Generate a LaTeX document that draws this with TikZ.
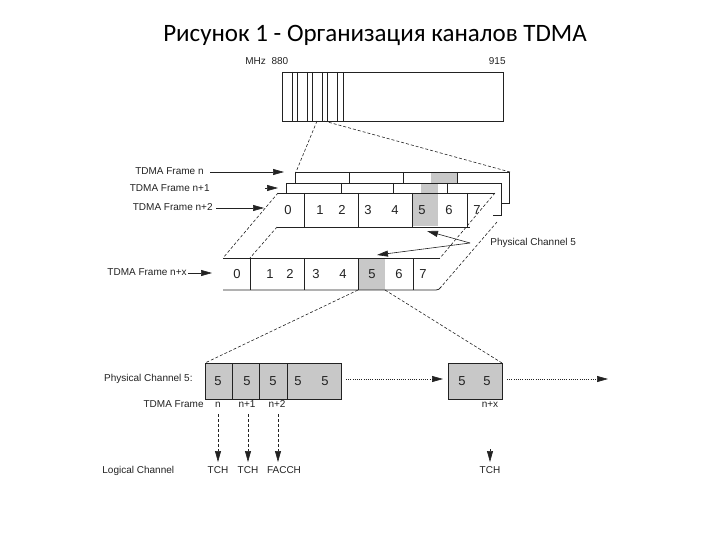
\documentclass[tikz,border=0pt]{standalone}
\usepackage{fontspec}
\setmainfont{Liberation Sans}
\newfontfamily\titlefont{Carlito}
\usetikzlibrary{arrows.meta}
\definecolor{slotgrey}{HTML}{C8C8C8}
\definecolor{ink}{HTML}{222222}
\begin{document}
\begin{tikzpicture}[x=1pt,y=-1pt,
  line width=0.8pt, draw=ink,
  lbl/.style={font=\fontsize{10}{12}\selectfont, text=ink, inner sep=0pt, text height=7.2pt, text depth=2pt},
  num/.style={font=\fontsize{13}{14}\selectfont, text=ink, inner sep=0pt},
  persp/.style={dash pattern=on 3pt off 2pt, line width=0.6pt},
  dotarrow/.style={dash pattern=on 1pt off 1.2pt, line width=0.6pt, -{Triangle[length=11pt,width=6pt]}},
  dasharrow/.style={dash pattern=on 3pt off 2pt, line width=0.6pt, -{Triangle[length=11pt,width=6pt]}},
  solidarrow/.style={line width=0.6pt, -{Triangle[length=11pt,width=6pt]}},
  slot/.style={fill=slotgrey, draw=none}
]
\useasboundingbox (0,0) rectangle (720,540);

% Title
\node (title) at (375,35) {\titlefont\fontsize{25}{29}\selectfont Рисунок 1 - Организация каналов TDMA};

% Frequency band
\node[lbl, anchor=west] (mhz) at (245,62) {MHz\ \ 880};
\node[lbl, anchor=east] (f915) at (506,62) {915};
\coordinate (bandNW) at (282,72);
\coordinate (bandSE) at (503,121);
\draw (bandNW) rectangle (bandSE);
\foreach \xx in {292,297,307,312,322,327,337,343}
  \draw (\xx,72) -- (\xx,121);
\coordinate (bandA) at (317,121);
\coordinate (bandB) at (324,121);

% Frame n (back)
\fill[slotgrey] (431,172.5) rectangle (457,183);
\draw (295,183) -- (295,172) -- (509,172) -- (509,203) -- (501,203);
\foreach \xx in {349,403,457} \draw (\xx,172) -- (\xx,183);
% Frame n+1
\fill[slotgrey] (421,183.5) rectangle (438,193);
\draw (286,193) -- (286,183) -- (501,183) -- (501,215) -- (493,215);
\foreach \xx in {341,393,447} \draw (\xx,183) -- (\xx,193);
% Frame n+2
\fill[slotgrey] (412,193.5) rectangle (438,226.5);
\draw (278,193) -- (495,193);
\draw (277,227) -- (470,227);
\foreach \xx in {304,358,412,467} \draw (\xx,193) -- (\xx,227);
\foreach \xx/\t in {288/0,320/1,342/2,368/3,395/4,422/5,449/6,477/7}
  \node[num] at (\xx,210) {\t};

\coordinate (nA) at (296,172);
\coordinate (nB) at (510,172);
\draw[persp] (bandA) -- (nA);
\draw[persp] (bandB) -- (nB);

% Frame n+x
\fill[slotgrey] (358,258.5) rectangle (385,289.5);
\draw (223,258) -- (440,258);
\draw (223,290) -- (436,290) to[out=0,in=-120] (441,287);
\foreach \xx in {250,304,358,413} \draw (\xx,258) -- (\xx,290);
\foreach \xx/\t in {237/0,270/1,290/2,316/3,343/4,372/5,399/6,423/7}
  \node[num] at (\xx,274) {\t};

% perspective lines between n+2 and n+x
\coordinate (p2TL) at (278,193);
\coordinate (p2BL) at (277,227);
\coordinate (p2TR) at (495,193);
\coordinate (p2BR) at (497,222);
\coordinate (pxTL) at (223,258);
\coordinate (pxT1) at (250,258);
\coordinate (pxTR) at (440,258);
\coordinate (pxBR) at (441,287);
\draw[persp] (p2TL) -- (pxTL);
\draw[persp] (p2BL) -- (pxT1);
\draw[persp] (p2TR) -- (pxTR);
\draw[persp] (p2BR) -- (pxBR);

% frame labels
\node[lbl, anchor=east] (ln) at (204,172) {TDMA Frame n};
\node[lbl, anchor=east] (ln1) at (210,189) {TDMA Frame n+1};
\node[lbl, anchor=east] (ln2) at (213,208) {TDMA Frame n+2};
\node[lbl, anchor=east] (lnx) at (187,273) {TDMA Frame n+x};
\coordinate (tn) at (284,172);
\coordinate (tn1s) at (265,188);
\coordinate (tn1) at (278,188);
\coordinate (tn2) at (264,208);
\coordinate (tnx) at (212,273);
\draw[solidarrow] (ln.east) ++(6,0) -- (tn);
\draw[solidarrow] (tn1s) -- (tn1);
\draw[solidarrow] (ln2.east) ++(3,0) -- (tn2);
\draw[solidarrow] (lnx.east) ++(1,0) -- (tnx);

% Physical channel 5 label
\node[lbl, anchor=west] (pc) at (490,243) {Physical Channel 5};
\coordinate (pcj) at (470,243);
\coordinate (pcA) at (427,231);
\coordinate (pcB) at (377,255);
\draw[solidarrow] (pcj) -- (pcA);
\draw[solidarrow] (pcj) -- (pcB);

% Lower: physical channel 5 row
\fill[slotgrey] (205,363) rectangle (341,399);
\draw (205,399) -- (205,363) -- (341,363) -- (341,399) -- cycle;
\foreach \xx in {232,259,287} \draw (\xx,363) -- (\xx,399);
\fill[slotgrey] (448,363) rectangle (502,399);
\draw (448,363) rectangle (502,399);
\foreach \xx in {218,247,273,298,325,462,487}
  \node[num] at (\xx,381) {5};

\coordinate (x5L) at (358,290);
\coordinate (x5R) at (385,290);
\coordinate (pbL) at (205,363);
\coordinate (pbR) at (502,363);
\draw[persp] (x5L) -- (pbL);
\draw[persp] (x5R) -- (pbR);

\coordinate (d1s) at (346,379);
\coordinate (d1e) at (443,379);
\coordinate (d2s) at (507,379);
\coordinate (d2e) at (608,379);
\draw[dotarrow] (d1s) -- (d1e);
\draw[dotarrow] (d2s) -- (d2e);

\node[lbl, anchor=east] (pcl) at (193,379) {Physical Channel 5:};
\node[lbl, anchor=east] (tfl) at (204,405) {TDMA Frame};
\node[lbl] (fn) at (218,405) {n};
\node[lbl] (fn1) at (247,405) {n+1};
\node[lbl] (fn2) at (277,405) {n+2};
\node[lbl] (fnx) at (490,405) {n+x};

\node[lbl, anchor=west] (lcl) at (102,471) {Logical Channel};
\node[lbl] (c1) at (218,471) {TCH};
\node[lbl] (c2) at (248,471) {TCH};
\node[lbl] (c3) at (284,471) {FACCH};
\node[lbl] (c4) at (490,471) {TCH};

\coordinate (a1s) at (218,414);
\coordinate (a2s) at (248,414);
\coordinate (a3s) at (278,414);
\coordinate (a4s) at (490,449);
\draw[dasharrow] (a1s) -- (218,462);
\draw[dasharrow] (a2s) -- (248,462);
\draw[dasharrow] (a3s) -- (278,462);
\draw[solidarrow] (a4s) -- (490,462);
\end{tikzpicture}
\end{document}
